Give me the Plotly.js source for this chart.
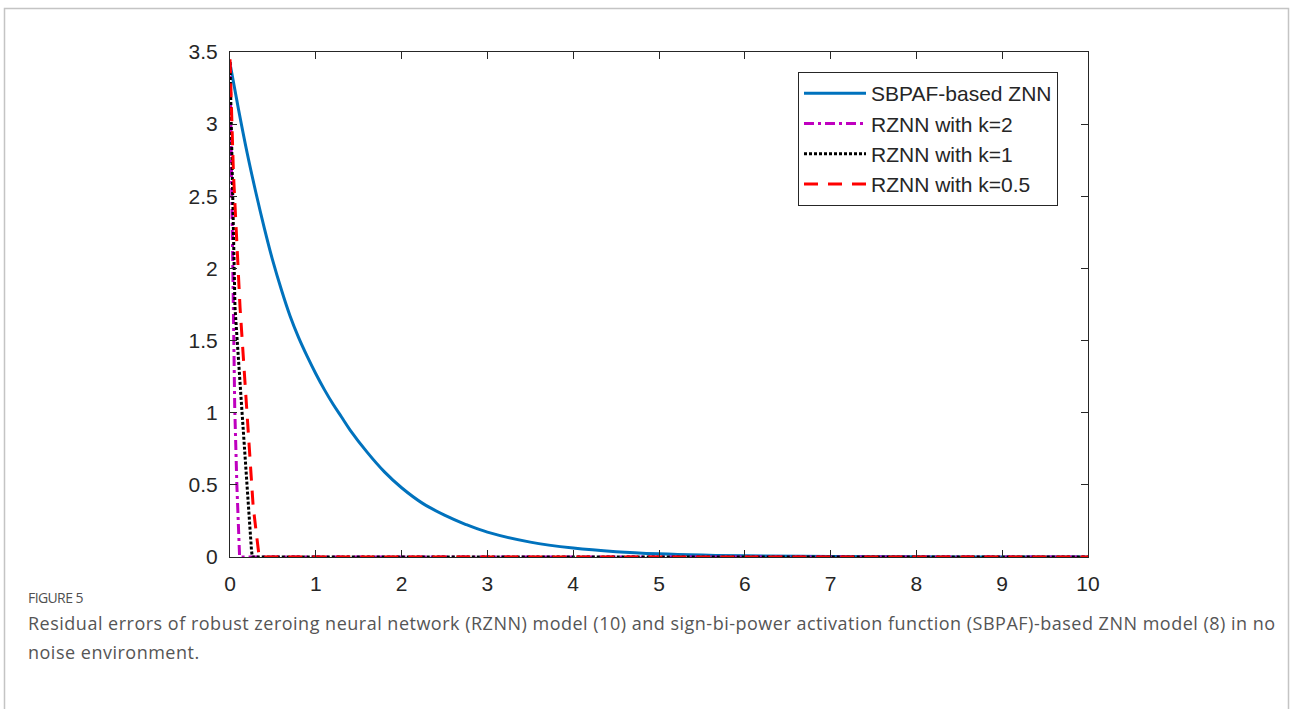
<!DOCTYPE html>
<html>
<head>
<meta charset="utf-8">
<script src="https://cdn.plot.ly/plotly-3.0.1.min.js"></script>
<style>
html,body{margin:0;padding:0;background:#fff;}
#wrap{position:relative;width:1290px;height:709px;overflow:hidden;}
#chart{position:absolute;left:0;top:0;width:1290px;height:709px;}
.cap{position:absolute;left:28px;white-space:nowrap;font-family:'Open Sans',sans-serif;color:#555555;}
#figlabel{top:589px;font-size:14px;line-height:17px;letter-spacing:-0.6px;color:#505050;}
#cap1{top:610px;font-size:18px;line-height:26px;letter-spacing:0.5px;}
#cap2{top:639px;font-size:18px;line-height:26px;letter-spacing:0.5px;}
</style>
</head>
<body>
<div id="wrap">
<div id="chart"></div>
<div class="cap" id="figlabel">FIGURE 5</div>
<div class="cap" id="cap1">Residual errors of robust zeroing neural network (RZNN) model (10) and sign-bi-power activation function (SBPAF)-based ZNN model (8) in no</div>
<div class="cap" id="cap2">noise environment.</div>
</div>
<script>
// SBPAF-based ZNN residual error
const tSBPAF = [0, 0.1, 0.2, 0.3, 0.4, 0.5, 0.6, 0.7, 0.8, 0.9, 1.0, 1.1, 1.2, 1.3, 1.4, 1.6, 1.8, 2.0, 2.25, 2.5, 2.75, 3, 3.5, 4, 4.5, 5, 5.5, 6, 7, 8, 9, 10];
const eSBPAF = [3.42, 3.10, 2.80, 2.53, 2.28, 2.05, 1.85, 1.67, 1.52, 1.39, 1.27, 1.16, 1.06, 0.97, 0.88, 0.725, 0.59, 0.48, 0.37, 0.29, 0.225, 0.172, 0.103, 0.062, 0.037, 0.022, 0.013, 0.008, 0.003, 0.001, 0.0004, 0.0002];
// RZNN k=2
const tK2 = [0, 0.02, 0.035, 0.055, 0.08, 0.1, 0.112, 10];
const eK2 = [3.43, 2.5, 1.73, 1.04, 0.5, 0.15, 0, 0];
// RZNN k=1
const tK1 = [0, 0.03, 0.058, 0.136, 0.21, 0.25, 0.26, 10];
const eK1 = [3.43, 2.66, 1.73, 1.04, 0.35, 0.05, 0, 0];
// RZNN k=0.5
const tK05 = [0, 0.04, 0.117, 0.19, 0.27, 0.33, 0.34, 10];
const eK05 = [3.45, 2.66, 1.73, 1.04, 0.35, 0.05, 0, 0];

const names = ['SBPAF-based ZNN', 'RZNN with k=2', 'RZNN with k=1', 'RZNN with k=0.5'];
const xTicks = [0,1,2,3,4,5,6,7,8,9,10];
const yTicks = [0,0.5,1,1.5,2,2.5,3,3.5];
const yTickText = ['0','0.5','1','1.5','2','2.5','3','3.5'];

const traces = [
  {x: tSBPAF, y: eSBPAF, name: names[0], mode: 'lines', line: {color: '#0072BD', width: 3, shape: 'spline', smoothing: 1}},
  {x: tK2, y: eK2, name: names[1], mode: 'lines', line: {color: '#BF00BF', width: 3, dash: '10px,4px,3px,4px'}},
  {x: tK1, y: eK1, name: names[2], mode: 'lines', line: {color: '#000000', width: 3, dash: '3px,2px'}},
  {x: tK05, y: eK05, name: names[3], mode: 'lines', line: {color: '#FF0000', width: 3, dash: '14px,10px'}}
];

const L = 230, R = 1088, T = 52, B = 557;
const px = v => (v - L) / (R - L);
const py = v => (B - v) / (B - T);

const tickFont = {family: 'Liberation Sans, Arial, sans-serif', size: 21, color: '#262626'};

const layout = {
  width: 1290, height: 709,
  margin: {l: L, r: 1290 - R, t: T, b: 709 - B, pad: 0},
  paper_bgcolor: 'rgba(0,0,0,0)', plot_bgcolor: '#ffffff',
  showlegend: true,
  legend: {
    x: px(798), y: py(72), xanchor: 'left', yanchor: 'top',
    bgcolor: '#ffffff', bordercolor: '#262626', borderwidth: 1,
    font: {family: 'Liberation Sans, Arial, sans-serif', size: 21, color: '#262626'},
    itemwidth: 62, tracegroupgap: 0
  },
  xaxis: {
    range: [0, 10], tickvals: xTicks, ticktext: xTicks.map(String),
    ticks: 'inside', ticklen: 7, tickcolor: '#262626', tickwidth: 1,
    showline: true, linecolor: '#262626', linewidth: 1, mirror: 'ticks',
    showgrid: false, zeroline: false,
    tickfont: tickFont, ticklabelstandoff: 8
  },
  yaxis: {
    range: [0, 3.5], tickvals: yTicks, ticktext: yTickText,
    ticks: 'inside', ticklen: 7, tickcolor: '#262626', tickwidth: 1,
    showline: true, linecolor: '#262626', linewidth: 1, mirror: 'ticks',
    showgrid: false, zeroline: false,
    tickfont: tickFont, ticklabelstandoff: 7
  },
  shapes: [
    {type: 'rect', xref: 'paper', yref: 'paper', x0: px(4.5), x1: px(1288.5), y0: py(730), y1: py(8.5),
     line: {color: '#c4c4c4', width: 1.5}, fillcolor: 'rgba(0,0,0,0)', layer: 'below'}
  ]
};

Plotly.newPlot('chart', traces, layout, {displayModeBar: false, staticPlot: true});
</script>
</body>
</html>
